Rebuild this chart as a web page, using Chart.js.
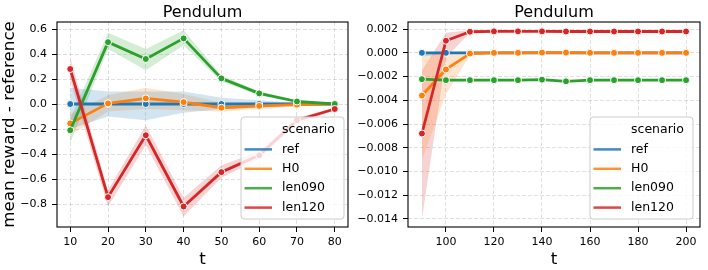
<!DOCTYPE html>
<html>
<head>
<meta charset="utf-8">
<script src="https://cdn.jsdelivr.net/npm/chart.js@4.4.0/dist/chart.umd.min.js"></script>
<style>
  html, body { margin: 0; padding: 0; background: #fff; }
  #wrap { position: relative; width: 708px; height: 270px; }
  .box { position: absolute; top: 0; width: 354px; height: 270px; }
</style>
</head>
<body>
<div id="wrap">
  <div class="box" style="left:0"><canvas id="left" width="354" height="270"></canvas></div>
  <div class="box" style="left:354px"><canvas id="right" width="354" height="270"></canvas></div>
</div>
<script>
const names  = ['ref', 'H0', 'len090', 'len120']
const colors = ['#1f77b4', '#ff7f0e', '#2ca02c', '#d62728']

// left panel, t = 10..80
const leftT        = [10, 20, 30, 40, 50, 60, 70, 80]
const leftRef      = [0, 0, 0, 0, 0, 0, 0, 0]
const leftRefLo    = [-0.20, -0.10, -0.13, -0.07, -0.04, -0.03, -0.01, 0]
const leftRefHi    = [0.13, 0.10, 0.10, 0.10, 0.05, 0.03, 0.01, 0]
const leftH0       = [-0.155, 0.005, 0.045, 0.015, -0.03, -0.015, -0.005, 0.0]
const leftH0Lo     = [-0.25, -0.06, -0.04, -0.05, -0.06, -0.04, -0.02, 0]
const leftH0Hi     = [-0.08, 0.07, 0.13, 0.08, 0.01, 0.01, 0.01, 0]
const leftLen090   = [-0.21, 0.495, 0.36, 0.525, 0.205, 0.085, 0.02, 0.0]
const leftLen090Lo = [-0.31, 0.44, 0.27, 0.47, 0.18, 0.07, 0.01, 0]
const leftLen090Hi = [-0.12, 0.57, 0.44, 0.59, 0.23, 0.10, 0.03, 0]
const leftLen120   = [0.28, -0.745, -0.25, -0.82, -0.545, -0.41, -0.13, -0.04]
const leftLen120Lo = [0.19, -0.82, -0.33, -0.90, -0.59, -0.44, -0.16, -0.05]
const leftLen120Hi = [0.37, -0.69, -0.17, -0.75, -0.49, -0.38, -0.11, -0.03]
const leftXTicks   = [10, 20, 30, 40, 50, 60, 70, 80]
const leftYTicks   = [-0.8, -0.6, -0.4, -0.2, 0.0, 0.2, 0.4, 0.6]

// right panel, t = 90..200
const rightT        = [90, 100, 110, 120, 130, 140, 150, 160, 170, 180, 190, 200]
const rightRef      = [0, 0, 0, 0, 0, 0, 0, 0, 0, 0, 0, 0]
const rightRefLo    = [-0.0003, -0.0001, 0, 0, 0, 0, 0, 0, 0, 0, 0, 0]
const rightRefHi    = [0.0001, 0.0001, 0, 0, 0, 0, 0, 0, 0, 0, 0, 0]
const rightH0       = [-0.0036, -0.0014, -0.00006, 0, 0, 0.00002, 0.00002, 0, 0, 0, 0, 0]
const rightH0Lo     = [-0.0090, -0.0035, -0.0002, -0.00005, -0.00005, -0.00005, -0.00005, -0.00005, -0.00005, -0.00005, -0.00005, -0.00005]
const rightH0Hi     = [-0.0001, 0.0000, 0.0001, 0.00005, 0.00005, 0.00008, 0.00008, 0.00005, 0.00005, 0.00005, 0.00005, 0.00005]
const rightLen090   = [-0.00222, -0.0023, -0.0023, -0.0023, -0.0023, -0.00226, -0.0024, -0.0023, -0.0023, -0.0023, -0.0023, -0.0023]
const rightLen090Lo = [-0.00228, -0.00235, -0.00235, -0.00235, -0.00235, -0.00232, -0.00246, -0.00235, -0.00235, -0.00235, -0.00235, -0.00235]
const rightLen090Hi = [-0.00216, -0.00225, -0.00225, -0.00225, -0.00225, -0.0022, -0.00234, -0.00225, -0.00225, -0.00225, -0.00225, -0.00225]
const rightLen120   = [-0.0068, 0.00102, 0.00178, 0.00181, 0.00181, 0.00181, 0.0018, 0.0018, 0.0018, 0.0018, 0.0018, 0.0018]
const rightLen120Lo = [-0.0140, -0.0004, 0.0017, 0.00176, 0.00176, 0.00176, 0.00175, 0.00175, 0.00175, 0.00175, 0.00175, 0.00175]
const rightLen120Hi = [-0.0015, 0.0017, 0.0019, 0.00186, 0.00186, 0.00186, 0.00185, 0.00185, 0.00185, 0.00185, 0.00185, 0.00185]
const rightXTicks   = [100, 120, 140, 160, 180, 200]
const rightYTicks   = [-0.014, -0.012, -0.010, -0.008, -0.006, -0.004, -0.002, 0.000, 0.002]


Chart.defaults.font.family = '"DejaVu Sans", sans-serif'
Chart.defaults.color = '#000'

function rgba(hex, a){
      const n = parseInt(hex.slice(1), 16)
      return `rgba(${n >> 16},${(n >> 8) & 255},${n & 255},${a})`
}

function pts(t, v){ return t.map((x, i) => ({ x: x, y: v[i] })) }

function minus(s){ return s.replace('-', '\u2212') }


//bands first, then the lines (lower order is drawn on top)
function buildSets(t, series){
      const sets = []
      series.forEach((s, i)=>{
            sets.push({ data: pts(t, s.lo), borderWidth: 0, pointRadius: 0, fill: false, order: 10 })
            sets.push({ data: pts(t, s.hi), borderWidth: 0, pointRadius: 0, fill: '-1',
                        backgroundColor: rgba(colors[i], 0.2), order: 10 })
      })
      series.forEach((s, i)=>{
            sets.push({
                  label: names[i],
                  data: pts(t, s.mean),
                  borderColor: colors[i],
                  backgroundColor: colors[i],
                  borderWidth: 2.8,
                  borderJoinStyle: 'round',
                  pointRadius: 3.5,
                  pointBackgroundColor: colors[i],
                  pointBorderColor: '#fff',
                  pointBorderWidth: 1,
                  fill: false,
                  tension: 0,
                  order: 4 - i
            })
      })
      return sets
}


const frame = {
      id: 'frame',
      afterDatasetsDraw(chart, args, opts){
            const ctx = chart.ctx
            const a = chart.chartArea
            ctx.save()

            //spines
            ctx.strokeStyle = '#000'
            ctx.lineWidth = 1.1
            ctx.strokeRect(a.left, a.top, a.right - a.left, a.bottom - a.top)

            //title
            ctx.fillStyle = '#000'
            ctx.font = '16px "DejaVu Sans"'
            ctx.textAlign = 'center'
            ctx.textBaseline = 'alphabetic'
            ctx.fillText(opts.title, (a.left + a.right) / 2, 16.5)

            //legend
            const w = 103, h = 102
            const x0 = a.right - opts.gap - w, y0 = a.bottom - 8 - h
            ctx.beginPath()
            ctx.roundRect(x0, y0, w, h, 3)
            ctx.fillStyle = 'rgba(255,255,255,0.8)'
            ctx.fill()
            ctx.strokeStyle = '#cccccc'
            ctx.lineWidth = 1
            ctx.stroke()

            const rows = ['scenario'].concat(names)
            ctx.font = '12.5px "DejaVu Sans"'
            ctx.textAlign = 'left'
            ctx.textBaseline = 'middle'
            rows.forEach((label, i)=>{
                  const y = y0 + 13 + i * 19.4
                  if(i > 0){
                        ctx.beginPath()
                        ctx.strokeStyle = rgba(colors[i - 1], 0.85)
                        ctx.lineWidth = 2.5
                        ctx.moveTo(x0 + 3.5, y)
                        ctx.lineTo(x0 + 31, y)
                        ctx.stroke()
                  }
                  ctx.fillStyle = '#000'
                  ctx.fillText(label, x0 + 41, y)
            })
            ctx.restore()
      }
}


function makeChart(id, detail){

      const grid = {
            color: 'rgba(0,0,0,0.12)',
            lineWidth: 1,
            tickLength: 5,
            tickColor: '#000',
            tickWidth: 1,
            tickBorderDash: []
      }

      const setup = {
            type: 'line',
            data: { datasets: buildSets(detail.t, detail.series) },
            options: {
                  responsive: false,
                  animation: false,
                  devicePixelRatio: 1,
                  layout: { padding: { left: 0, right: detail.padRight, top: 22, bottom: 0 } },
                  plugins: {
                        legend: { display: false },
                        tooltip: { enabled: false },
                        filler: { drawTime: 'beforeDatasetsDraw' },
                        frame: { title: 'Pendulum', gap: detail.gap }
                  },
                  scales: {
                        x: {
                              type: 'linear',
                              min: detail.xMin, max: detail.xMax,
                              afterBuildTicks: (s)=>{ s.ticks = detail.xTicks.map(v => ({ value: v })) },
                              afterFit: (s)=>{ s.height = 43 },
                              ticks: { font: { size: 11 }, padding: 4, maxRotation: 0,
                                       callback: (v)=> String(v) },
                              grid: grid,
                              border: { display: false, dash: [4, 2] },
                              title: { display: true, text: 't', font: { size: 16.7 }, padding: 0 }
                        },
                        y: {
                              min: detail.yMin, max: detail.yMax,
                              afterBuildTicks: (s)=>{ s.ticks = detail.yTicks.map(v => ({ value: v })) },
                              afterFit: (s)=>{ s.width = detail.yWidth },
                              ticks: { font: { size: 11 }, padding: 5,
                                       callback: (v)=> minus(v.toFixed(detail.digits)) },
                              grid: grid,
                              border: { display: false, dash: [4, 2] },
                              title: { display: detail.yTitle !== '', text: detail.yTitle, font: { size: 16.7 }, padding: 0 }
                        }
                  }
            },
            plugins: [frame]
      }

      return new Chart(document.getElementById(id), setup)
}


makeChart('left', {
      t: leftT,
      series: [
            { mean: leftRef,    lo: leftRefLo,    hi: leftRefHi },
            { mean: leftH0,     lo: leftH0Lo,     hi: leftH0Hi },
            { mean: leftLen090, lo: leftLen090Lo, hi: leftLen090Hi },
            { mean: leftLen120, lo: leftLen120Lo, hi: leftLen120Hi }
      ],
      xMin: 6.5, xMax: 83.5, yMin: -0.984, yMax: 0.656,
      xTicks: leftXTicks, yTicks: leftYTicks, digits: 1,
      yWidth: 57, padRight: 6, gap: 4,
      yTitle: 'mean reward - reference'
})

makeChart('right', {
      t: rightT,
      series: [
            { mean: rightRef,    lo: rightRefLo,    hi: rightRefHi },
            { mean: rightH0,     lo: rightH0Lo,     hi: rightH0Hi },
            { mean: rightLen090, lo: rightLen090Lo, hi: rightLen090Hi },
            { mean: rightLen120, lo: rightLen120Lo, hi: rightLen120Hi }
      ],
      xMin: 84.2, xMax: 205.8, yMin: -0.01468, yMax: 0.0026,
      xTicks: rightXTicks, yTicks: rightYTicks, digits: 3,
      yWidth: 54, padRight: 8, gap: 7,
      yTitle: ''
})
</script>
</body>
</html>
